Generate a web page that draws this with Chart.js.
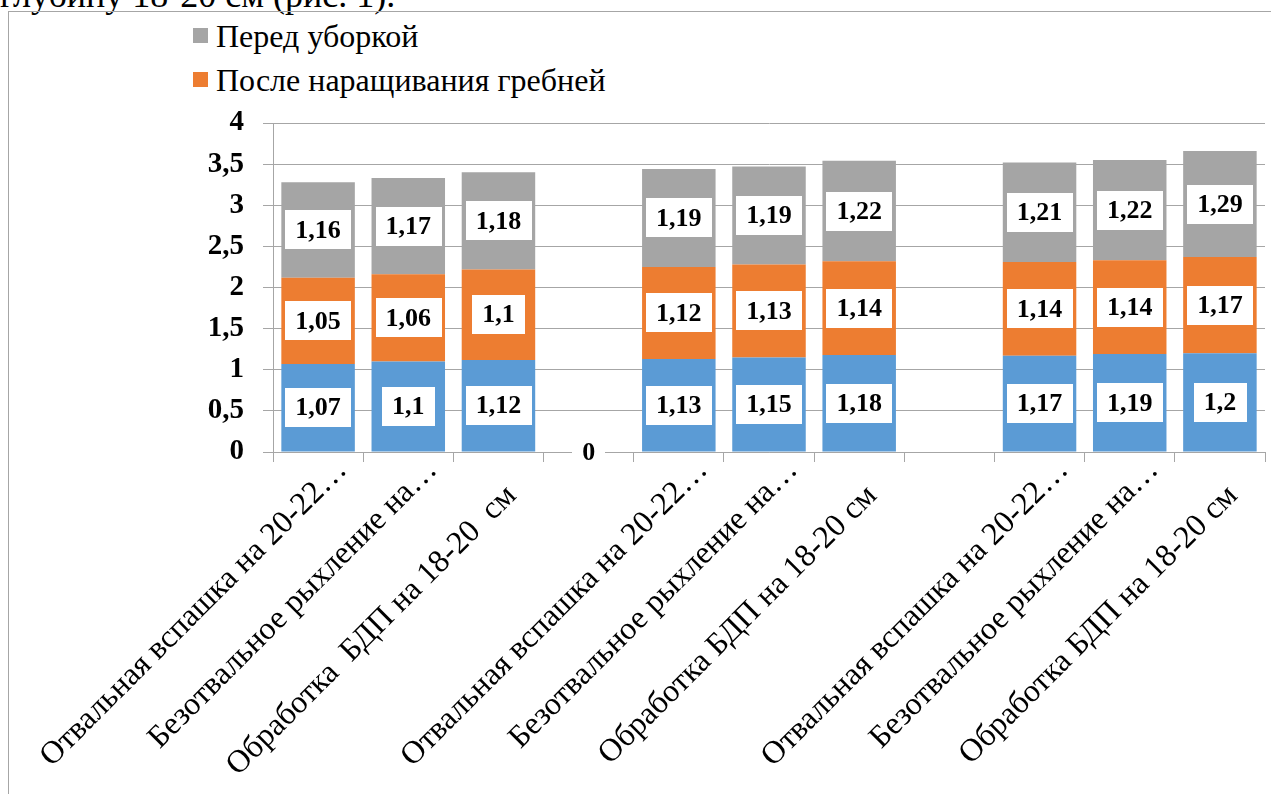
<!DOCTYPE html>
<html>
<head>
<meta charset="utf-8">
<script src="https://cdn.jsdelivr.net/npm/chart.js@4.4.1/dist/chart.umd.min.js"></script>
<style>
  html, body { margin: 0; padding: 0; background: #fff; }
  body { width: 1271px; height: 794px; position: relative; overflow: hidden; font-family: 'Liberation Serif'; }
  #lead { position: absolute; left: 0; top: -25px; font-size: 36px; line-height: 40px; white-space: nowrap; color: #000; font-family: 'Liberation Serif'; }
  #frame { position: absolute; left: 8px; top: 11px; width: 1300px; height: 820px; border: 1px solid #a6a6a6; box-sizing: border-box; }
  #wrap { position: absolute; left: 0; top: 0; width: 1271px; height: 794px; }
  #legend { position: absolute; left: 193px; top: 13.5px; font-size: 32px; line-height: 44px; color: #000; font-family: 'Liberation Serif'; }
  #legend .item { display: flex; align-items: center; height: 44px; white-space: nowrap; }
  #legend .sw { width: 15px; height: 15px; margin-right: 8px; display: inline-block; }
</style>
</head>
<body>
<div id="lead">глубину 18-20 см (рис. 1).</div>
<div id="frame"></div>
<div id="legend"></div>
<div id="wrap"><canvas id="chart"></canvas></div>
<script>
// Categories along the x axis (empty slots separate the three groups)
const categories = [
  'Отвальная вспашка на 20-22…',
  'Безотвальное рыхление на…',
  'Обработка  БДП на 18-20  см',
  '',
  'Отвальная вспашка на 20-22…',
  'Безотвальное рыхление на…',
  'Обработка БДП на 18-20 см',
  '',
  'Отвальная вспашка на 20-22…',
  'Безотвальное рыхление на…',
  'Обработка БДП на 18-20 см'
];

// Stacked series values, bottom to top
const baseValues    = [1.07, 1.1, 1.12, 0, 1.13, 1.15, 1.18, null, 1.17, 1.19, 1.2];
const ridgeValues   = [1.05, 1.06, 1.1, null, 1.12, 1.13, 1.14, null, 1.14, 1.14, 1.17];
const harvestValues = [1.16, 1.17, 1.18, null, 1.19, 1.19, 1.22, null, 1.21, 1.22, 1.29];

const seriesNames = ['Ряд 1', 'После наращивания гребней', 'Перед уборкой'];
const seriesColors = ['#5B9BD5', '#ED7D31', '#A5A5A5'];

// Y axis tick values
const yTicks = [0, 0.5, 1, 1.5, 2, 2.5, 3, 3.5, 4];

const fmt = v => String(v).replace('.', ',');
const SERIF = 'Liberation Serif';
const VALUE_FONT = 'bold 26px "Liberation Serif"';
const CATEGORY_FONT = '32px "Liberation Serif"';
const TICK_FONT = 'bold 29px "Liberation Serif"';

// Legend: top series first, bottom series not listed
const legendEl = document.getElementById('legend');
[2, 1].forEach(i => {
  const row = document.createElement('div');
  row.className = 'item';
  const sw = document.createElement('span');
  sw.className = 'sw';
  sw.style.background = seriesColors[i];
  const tx = document.createElement('span');
  tx.textContent = seriesNames[i];
  row.appendChild(sw);
  row.appendChild(tx);
  legendEl.appendChild(row);
});
void legendEl.offsetWidth;

// White boxed value labels in the middle of each segment
const valueLabels = {
  id: 'valueLabels',
  afterDatasetsDraw(chart) {
    const ctx = chart.ctx;
    ctx.save();
    ctx.font = VALUE_FONT;
    ctx.textAlign = 'center';
    ctx.textBaseline = 'middle';
    chart.data.datasets.forEach((ds, i) => {
      const meta = chart.getDatasetMeta(i);
      meta.data.forEach((bar, j) => {
        const v = ds.data[j];
        if (v === null || v === undefined) return;
        const txt = fmt(v);
        const p = bar.getProps(['x', 'y', 'base'], true);
        const cy = (p.y + p.base) / 2;
        const w = ctx.measureText(txt).width + 20;
        const h = 39;
        ctx.fillStyle = '#ffffff';
        ctx.fillRect(Math.round(p.x - w / 2), Math.round(cy - h / 2), Math.round(w), h);
        ctx.fillStyle = '#000000';
        ctx.fillText(txt, p.x, cy + 1);
      });
    });
    ctx.restore();
  }
};

// Category names at 45°, ending just right of each tick
const categoryLabels = {
  id: 'categoryLabels',
  afterDraw(chart) {
    const xs = chart.scales.x;
    const ctx = chart.ctx;
    const axisY = chart.chartArea.bottom;
    ctx.save();
    ctx.font = CATEGORY_FONT;
    ctx.fillStyle = '#000000';
    ctx.textAlign = 'right';
    ctx.textBaseline = 'alphabetic';
    chart.data.labels.forEach((lbl, i) => {
      if (!lbl) return;
      const clipped = lbl.endsWith('…');
      const x = xs.getPixelForTick(i) + (clipped ? 30 : 19);
      const y = axisY + (clipped ? 19 : 45);
      ctx.save();
      ctx.translate(x, y);
      ctx.rotate(-Math.PI / 4);
      ctx.fillText(lbl, 0, 0);
      ctx.restore();
    });
    ctx.restore();
  }
};

const datasets = [baseValues, ridgeValues, harvestValues].map((d, i) => ({
  label: seriesNames[i],
  data: d,
  backgroundColor: seriesColors[i],
  borderWidth: 0,
  categoryPercentage: 1,
  barPercentage: 0.815
}));

const chart = new Chart(document.getElementById('chart'), {
  type: 'bar',
  data: { labels: categories, datasets },
  plugins: [valueLabels, categoryLabels],
  options: {
    responsive: true,
    maintainAspectRatio: false,
    animation: false,
    layout: { padding: { top: 123, right: 6, left: 0, bottom: 0 } },
    plugins: { legend: { display: false }, tooltip: { enabled: false } },
    scales: {
      x: {
        stacked: true,
        afterFit(scale) { scale.height = 342; },
        grid: { display: true, drawOnChartArea: false, drawTicks: true, tickLength: 10, color: '#a6a6a6', lineWidth: 1 },
        border: { display: true, color: '#a6a6a6', width: 1 },
        ticks: { display: false, autoSkip: false }
      },
      y: {
        stacked: true,
        min: 0, max: 4,
        afterFit(scale) { scale.width = 273; },
        afterBuildTicks(scale) { scale.ticks = yTicks.map(v => ({ value: v })); },
        grid: { color: '#a6a6a6', lineWidth: 1, tickLength: 10 },
        border: { display: true, color: '#a6a6a6', width: 1 },
        ticks: {
          padding: 19, color: '#000',
          font: { family: SERIF, size: 29, weight: 'bold' },
          callback: v => fmt(v)
        }
      }
    }
  }
});

// Repaint the canvas whenever the serif faces become available
const repaint = () => chart.draw();
Promise.all([VALUE_FONT, CATEGORY_FONT, TICK_FONT].map(f => document.fonts.load(f, '1,16 Обработка')))
  .then(repaint, repaint);
document.fonts.ready.then(repaint);
document.fonts.addEventListener('loadingdone', repaint);
window.addEventListener('load', repaint);
requestAnimationFrame(() => requestAnimationFrame(repaint));
let repaintCount = 0;
const repaintTimer = setInterval(() => {
  repaint();
  if (++repaintCount > 60) clearInterval(repaintTimer);
}, 50);
</script>
</body>
</html>
